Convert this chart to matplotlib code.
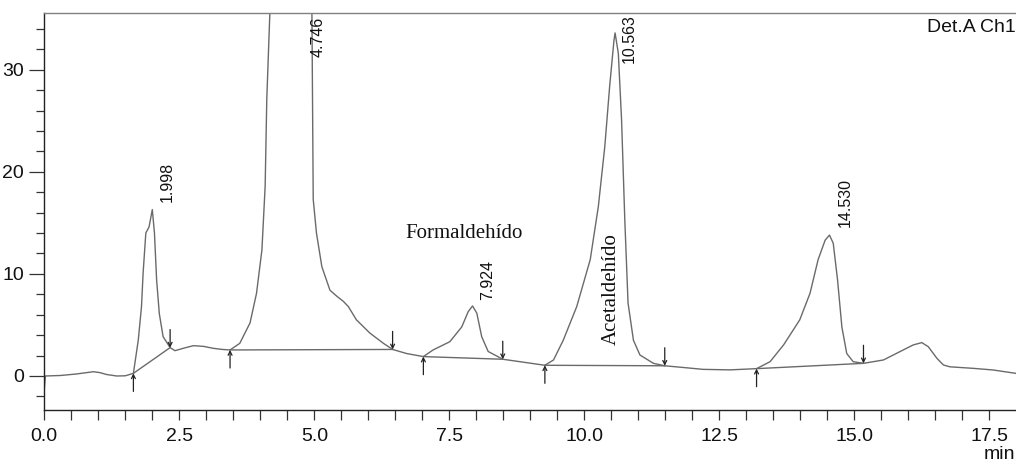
import matplotlib
matplotlib.use("Agg")
import matplotlib.pyplot as plt
from matplotlib.ticker import MultipleLocator

# ---- data (time in min, signal) ----
time = [0.00, 0.02, 0.30, 0.60, 0.91, 1.03, 1.15, 1.34, 1.50, 1.65,
        1.74, 1.80, 1.83, 1.88, 1.94, 2.00, 2.04, 2.08, 2.13, 2.20, 2.33, 2.42,
        2.60, 2.76, 2.95, 3.13, 3.30, 3.44, 3.62, 3.81, 3.93, 4.03, 4.09, 4.12,
        4.18, 4.30, 4.50, 4.75, 4.95, 4.98, 5.04, 5.14, 5.29, 5.42, 5.54, 5.63,
        5.78, 6.03, 6.28, 6.45, 6.71, 7.02, 7.20, 7.51, 7.73, 7.85, 7.93, 8.01,
        8.10, 8.22, 8.49, 8.81, 9.27, 9.43, 9.61, 9.86, 10.11, 10.26, 10.38,
        10.47, 10.55, 10.57, 10.63, 10.69, 10.75, 10.81, 10.91, 11.03, 11.28,
        11.49, 11.80, 12.20, 12.70, 13.19, 13.44, 13.69, 13.99, 14.18, 14.33,
        14.46, 14.54, 14.61, 14.69, 14.77, 14.86, 14.98, 15.17, 15.54, 15.85,
        16.09, 16.25, 16.37, 16.53, 16.65, 16.77, 17.20, 17.57, 17.99]
signal = [-1.3, 0.0, 0.05, 0.2, 0.42, 0.33, 0.15, 0.0, 0.02, 0.26,
          3.5, 6.8, 10.1, 14.0, 14.6, 16.3, 14.0, 9.4, 6.1, 3.85, 2.78, 2.48,
          2.75, 2.97, 2.9, 2.71, 2.6, 2.55, 3.2, 5.2, 8.1, 12.35, 18.6, 27.1,
          36.0, 50.0, 58.0, 60.0, 40.0, 17.3, 14.0, 10.7, 8.4, 7.8, 7.3, 6.8,
          5.5, 4.2, 3.2, 2.6, 2.2, 1.9, 2.55, 3.36, 4.8, 6.3, 6.86, 6.15,
          3.85, 2.4, 1.64, 1.4, 1.05, 1.57, 3.5, 6.8, 11.4, 16.6, 22.5,
          28.4, 32.9, 33.6, 31.6, 25.1, 15.3, 7.15, 3.5, 2.06, 1.24,
          1.0, 0.85, 0.65, 0.6, 0.72, 1.4, 3.04, 5.5, 8.1, 11.4,
          13.3, 13.8, 13.0, 9.4, 4.8, 2.2, 1.4, 1.24, 1.57, 2.4,
          3.04, 3.27, 2.87, 1.73, 1.08, 0.9, 0.75, 0.59, 0.26]

# integration baselines: start/end of each drawn baseline segment
base_start_t = [1.65, 3.44, 7.02, 9.27, 13.19]
base_start_y = [0.26, 2.55, 1.90, 1.05, 0.72]
base_end_t = [2.33, 6.45, 8.49, 11.49, 15.17]
base_end_y = [2.78, 2.60, 1.64, 1.00, 1.24]

# peak retention-time labels
peak_labels = ["1.998", "4.746", "7.924", "10.563", "14.530"]
peak_label_t = [2.36, 5.15, 8.30, 10.92, 14.91]
peak_label_y = [17.0, 31.2, 7.45, 30.7, 14.6]

x_ticks = [0.0, 2.5, 5.0, 7.5, 10.0, 12.5, 15.0, 17.5]
y_ticks = [0, 10, 20, 30]

LINE = "#6a6a6a"
SANS = ["Liberation Sans", "DejaVu Sans"]
SERIF = ["Liberation Serif", "DejaVu Serif"]

fig = plt.figure(figsize=(10.16, 4.63), dpi=100)
ax = fig.add_axes([44.3 / 1016, 53 / 463, 1 - 44.3 / 1016, (410 - 13) / 463])

ax.plot(time, signal, color=LINE, lw=1.0, solid_joinstyle="round")

for t0, y0, t1, y1 in zip(base_start_t, base_start_y, base_end_t, base_end_y):
    ax.plot([t0, t1], [y0, y1], color=LINE, lw=1.0)

for t0, y0 in zip(base_start_t, base_start_y):
    ax.annotate("", xy=(t0, y0), xytext=(0, -13), textcoords="offset points",
                xycoords="data",
                arrowprops=dict(arrowstyle="->", color="#222222", lw=0.9,
                                shrinkA=0, shrinkB=0, mutation_scale=7))
for t1, y1 in zip(base_end_t, base_end_y):
    ax.annotate("", xy=(t1, y1), xytext=(0, 13), textcoords="offset points",
                xycoords="data",
                arrowprops=dict(arrowstyle="->", color="#222222", lw=0.9,
                                shrinkA=0, shrinkB=0, mutation_scale=7))

for lab, t, y in zip(peak_labels, peak_label_t, peak_label_y):
    ax.text(t, y, lab, rotation=90, rotation_mode="anchor", ha="left",
            va="baseline", fontsize=11.5, family=SANS, color="#111111")

ax.text(7.77, 13.5, "Formaldehído", fontsize=15, family=SERIF, ha="center",
        va="baseline", color="#111111")
ax.text(10.59, 3.04, "Acetaldehído", rotation=90, rotation_mode="anchor",
        ha="left", va="baseline", fontsize=15, family=SERIF, color="#111111")

ax.text(1.0, 0.985, "Det.A Ch1", transform=ax.transAxes, ha="right", va="top",
        fontsize=14, family=SANS, color="#111111")

ax.set_xlim(0, (1016 - 44.3) / 54)
ax.set_ylim(-3.33, 35.55)
ax.set_xticks(x_ticks)
ax.set_xticklabels([f"{v:.1f}" for v in x_ticks])
ax.set_yticks(y_ticks)
ax.xaxis.set_minor_locator(MultipleLocator(0.5))
ax.yaxis.set_minor_locator(MultipleLocator(2))
ax.tick_params(axis="both", which="major", labelsize=14, direction="out",
               color="#333333", labelcolor="#111111")
ax.tick_params(axis="y", which="major", length=11, width=0.9)
ax.tick_params(axis="y", which="minor", length=6, width=0.9, color="#333333")
ax.tick_params(axis="x", which="major", length=7, width=0.9, pad=6)
ax.tick_params(axis="x", which="minor", length=7, width=0.9, color="#333333")
for lab in ax.get_xticklabels() + ax.get_yticklabels():
    lab.set_family(SANS)

ax.spines["right"].set_visible(False)
ax.spines["top"].set_color("#808080")
ax.spines["left"].set_color("#222222")
ax.spines["bottom"].set_color("#222222")
for s in ax.spines.values():
    s.set_linewidth(1.0)

fig.text(0.999, 0.001, "min", ha="right", va="bottom",
         fontsize=14, family=SANS, color="#111111")

fig.savefig("out.png", dpi=100)
